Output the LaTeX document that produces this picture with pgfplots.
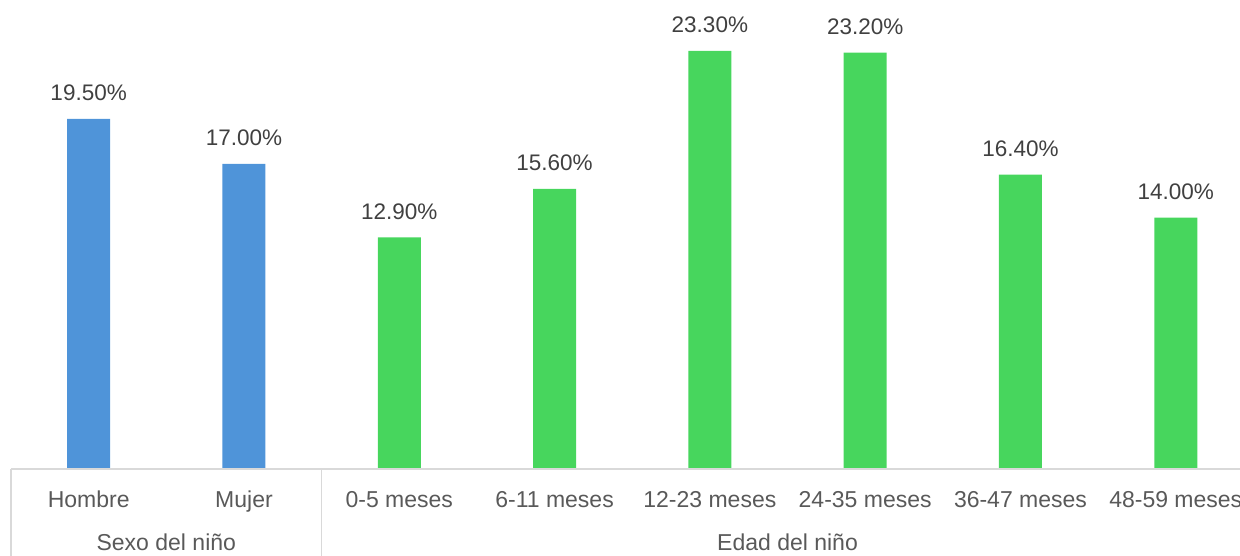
\documentclass[border=0pt]{standalone}
\usepackage{pgfplots}
\pgfplotsset{compat=1.18}
\usepackage{fontspec}
\setmainfont{Liberation Sans}
\definecolor{barblue}{RGB}{79,148,217}
\definecolor{bargreen}{RGB}{71,214,93}
\definecolor{gridgray}{RGB}{217,217,217}
\definecolor{ticktext}{RGB}{89,89,89}
\definecolor{labeltext}{RGB}{64,64,64}
\begin{document}
\begin{tikzpicture}[x=1pt,y=1pt]
\path[use as bounding box] (0,0) rectangle (1240,556);
\begin{axis}[
  at={(11pt,87pt)}, anchor=south west,
  scale only axis, width=1242.5pt, height=469pt,
  xmin=-0.5, xmax=7.5, ymin=0, ymax=26.13,
  axis lines=none, clip=false,
  ybar, bar width=43pt, bar shift=0pt,
  /pgf/number format/assume math mode=true,
  nodes near coords={\pgfmathprintnumber[fixed,fixed zerofill,precision=2]{\pgfplotspointmeta}\%},
  nodes near coords style={anchor=base, yshift=18pt, inner sep=0pt, text=labeltext, font=\fontsize{22.5}{26}\selectfont},
]
\addplot[fill=barblue, draw=none] coordinates {(0,19.5) (1,17.0)};
\addplot[fill=bargreen, draw=none] coordinates {(2,12.9) (3,15.6) (4,23.3) (5,23.2) (6,16.4) (7,14.0)};
\draw[gridgray, line width=1.5pt] (axis cs:-0.5,0) -- (axis cs:7.5,0);
\draw[gridgray, line width=1.5pt] (axis cs:-0.5,0) -- ([yshift=-90pt]axis cs:-0.5,0);
\draw[gridgray, line width=1.5pt] (axis cs:1.5,0) -- ([yshift=-90pt]axis cs:1.5,0);
\draw[gridgray, line width=1.5pt] (axis cs:7.5,0) -- ([yshift=-90pt]axis cs:7.5,0);
\foreach \i/\lab in {0/Hombre,1/Mujer,2/0-5 meses,3/6-11 meses,4/12-23 meses,5/24-35 meses,6/36-47 meses,7/48-59 meses}{
  \edef\tmp{\noexpand\node[text=ticktext, font=\noexpand\fontsize{23}{27}\noexpand\selectfont, anchor=base, inner sep=0pt] at ([yshift=-39pt]axis cs:\i,0) {\lab};}
  \tmp
}
\node[text=ticktext, font=\fontsize{23}{27}\selectfont, anchor=base, inner sep=0pt] at ([yshift=-82pt]axis cs:0.5,0) {Sexo del niño};
\node[text=ticktext, font=\fontsize{23}{27}\selectfont, anchor=base, inner sep=0pt] at ([yshift=-82pt]axis cs:4.5,0) {Edad del niño};
\end{axis}
\end{tikzpicture}
\end{document}
